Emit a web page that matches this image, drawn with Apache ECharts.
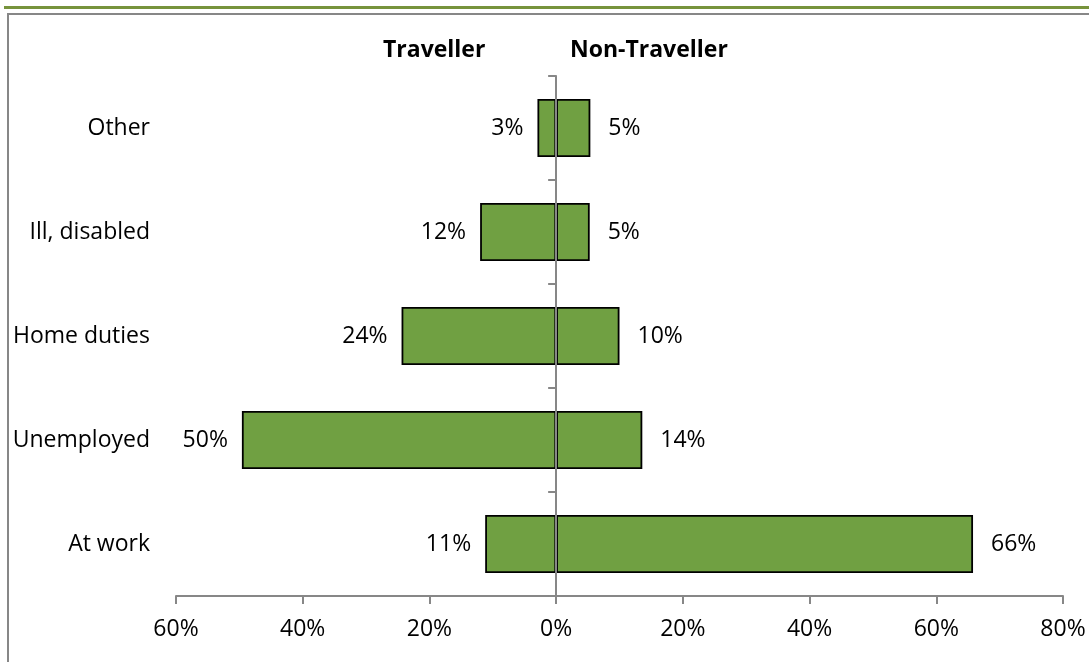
<!DOCTYPE html>
<html>
<head>
<meta charset="utf-8">
<script src="https://cdn.jsdelivr.net/npm/echarts@6/dist/echarts.min.js"></script>
<style>
html,body{margin:0;padding:0;background:#fff;}
#chart{width:1089px;height:662px;}
</style>
</head>
<body>
<div id="chart"></div>
<script>
var categories = ['Other', 'Ill, disabled', 'Home duties', 'Unemployed', 'At work'];
var traveller = [2.95, 12.0, 24.4, 49.6, 11.2];
var nonTraveller = [5.4, 5.3, 10.0, 13.6, 65.8];
var seriesNames = ['Traveller', 'Non-Traveller'];
var xTicks = { min: -60, max: 80, interval: 20 };

var FONT = 'Open Sans';
var GREEN = '#70A042';
var GRAY = '#878787';

var chart = echarts.init(document.getElementById('chart'));
chart.setOption({
  animation: false,
  backgroundColor: '#fff',
  textStyle: { fontFamily: FONT },
  grid: { left: 176, right: 26, top: 76, bottom: 66, containLabel: false },
  title: [
    { text: seriesNames[0], left: 383, top: 39, padding: 0,
      textStyle: { fontFamily: FONT, fontWeight: 'bold', fontSize: 23, color: '#000' } },
    { text: seriesNames[1], left: 570, top: 39, padding: 0,
      textStyle: { fontFamily: FONT, fontWeight: 'bold', fontSize: 23, color: '#000' } }
  ],
  graphic: [
    { type: 'rect', shape: { x: 4, y: 6, width: 1085, height: 3 }, style: { fill: '#77933C' }, silent: true },
    { type: 'rect', shape: { x: 7, y: 13, width: 1082, height: 2 }, style: { fill: GRAY }, silent: true },
    { type: 'rect', shape: { x: 7, y: 13, width: 2, height: 649 }, style: { fill: GRAY }, silent: true }
  ],
  xAxis: {
    type: 'value',
    min: xTicks.min, max: xTicks.max, interval: xTicks.interval,
    axisLine: { show: true, lineStyle: { color: GRAY, width: 2 } },
    axisTick: { show: true, length: 8, lineStyle: { color: GRAY, width: 2 } },
    splitLine: { show: false },
    axisLabel: {
      margin: 22, fontSize: 23, color: '#000', fontFamily: FONT,
      formatter: function (v) { return Math.abs(v) + '%'; }
    }
  },
  yAxis: [
    {
      type: 'category', data: categories, inverse: true, z: 10,
      axisLine: { show: true, onZero: true, lineStyle: { color: GRAY, width: 2 } },
      axisTick: { show: true, length: 8, lineStyle: { color: GRAY, width: 2 } },
      axisLabel: { show: false }
    },
    {
      type: 'category', data: categories, inverse: true, position: 'left',
      axisLine: { show: false }, axisTick: { show: false },
      axisLabel: { show: true, margin: 26, fontSize: 23, color: '#000', fontFamily: FONT }
    }
  ],
  series: [
    {
      name: seriesNames[0], type: 'bar', yAxisIndex: 0,
      data: traveller.map(function (v) { return -v; }),
      barWidth: '56%', barGap: '-100%',
      itemStyle: { color: GREEN, borderColor: '#000', borderWidth: 1.8 },
      label: {
        show: true, position: 'left', distance: 14, fontSize: 23, color: '#000', fontFamily: FONT,
        formatter: function (p) { return Math.round(Math.abs(p.value)) + '%'; }
      }
    },
    {
      name: seriesNames[1], type: 'bar', yAxisIndex: 0,
      data: nonTraveller,
      barWidth: '56%', barGap: '-100%',
      itemStyle: { color: GREEN, borderColor: '#000', borderWidth: 1.8 },
      label: {
        show: true, position: 'right', distance: 18, fontSize: 23, color: '#000', fontFamily: FONT,
        formatter: function (p) { return Math.round(Math.abs(p.value)) + '%'; }
      }
    }
  ]
});
</script>
</body>
</html>
